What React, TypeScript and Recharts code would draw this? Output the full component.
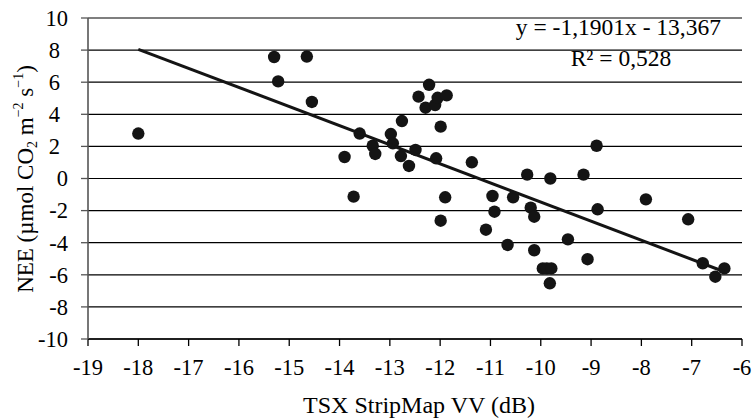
import React from "react";
import { ScatterChart, Scatter, XAxis, YAxis, CartesianGrid } from "recharts";

// TSX StripMap VV (dB) vs NEE
const vvDb = [
  -18.0, -15.3, -15.22, -14.65, -14.55, -13.9, -13.72, -13.6, -13.34, -13.29,
  -12.98, -12.94, -12.76, -12.78, -12.62, -12.49, -12.43, -12.22, -12.29, -12.1,
  -12.05, -11.87, -11.99, -12.08, -11.37, -11.9, -11.99, -11.09, -10.96, -10.92,
  -10.66, -10.55, -10.27, -10.2, -10.13, -10.13, -9.96, -9.88, -9.79, -9.82,
  -9.81, -9.46, -9.15, -9.07, -8.89, -8.87, -7.91, -7.07, -6.78, -6.53, -6.35,
];
const nee = [
  2.8, 7.57, 6.05, 7.6, 4.77, 1.34, -1.13, 2.8, 2.04, 1.53,
  2.77, 2.19, 3.58, 1.4, 0.78, 1.78, 5.1, 5.84, 4.41, 4.58,
  5.03, 5.18, 3.23, 1.26, 1.01, -1.17, -2.63, -3.19, -1.09, -2.07,
  -4.14, -1.17, 0.24, -1.82, -2.38, -4.47, -5.6, -5.6, -5.6, -6.53,
  0.0, -3.79, 0.24, -5.03, 2.04, -1.92, -1.3, -2.54, -5.28, -6.12, -5.6,
];

// linear trend end points (y = -1,1901x - 13,367)
const trendX = [-18, -6.35];
const trendY = [8.05, -5.81];

const xTicks = [-19, -18, -17, -16, -15, -14, -13, -12, -11, -10, -9, -8, -7, -6];
const yTicks = [-10, -8, -6, -4, -2, 0, 2, 4, 6, 8, 10];

const equation = "y = -1,1901x - 13,367";
const rSquared = "R² = 0,528";

const points = vvDb.map((x, i) => ({ x, y: nee[i] }));
const trend = trendX.map((x, i) => ({ x, y: trendY[i] }));

const FONT = "Liberation Serif";
const tickTxt = { fontFamily: FONT, fontSize: 22.5 };
const txt = { fontFamily: FONT, fontSize: 23 };
const small = { fontSize: 14 };

const YTick = (props: any) => {
  const v = props.payload.value as number;
  const right = v > 0 && v < 10 ? 60 : 68;
  return (
    <text x={right} y={props.y} dy="0.35em" textAnchor="end" fill="#000" style={tickTxt}>
      {v}
    </text>
  );
};

const XTick = (props: any) => (
  <text x={props.x} y={375} textAnchor="middle" fill="#000" style={tickTxt}>
    {props.payload.value}
  </text>
);

const YTitle = () => (
  <g>
    <text transform="translate(33,179) rotate(-90)" textAnchor="middle" fill="#000" style={txt}>
      NEE (µmol CO
      <tspan style={small} dy={4}>2</tspan>
      <tspan dy={-4}> m</tspan>
      <tspan style={small} dy={-10}>−2</tspan>
      <tspan dy={10}> s</tspan>
      <tspan style={small} dy={-10}>−1</tspan>
      <tspan dy={10}>)</tspan>
    </text>
    <text x={721} y={35} textAnchor="end" fill="#000" style={{ ...txt, fontSize: 23.5 }}>
      {equation}
    </text>
    <text x={621} y={66} textAnchor="middle" fill="#000" style={{ ...txt, fontSize: 23.5 }}>
      {rSquared}
    </text>
  </g>
);

const XTitle = () => (
  <text x={419} y={413} textAnchor="middle" fill="#000" style={{ ...txt, fontSize: 24 }}>
    TSX StripMap VV (dB)
  </text>
);

const Dot = (props: any) => <circle cx={props.cx} cy={props.cy} r={6.2} fill="#141414" />;

export default function App() {
  return (
    <div style={{ position: "absolute", left: 0, top: 0, background: "#fff", fontFamily: FONT }}>
      <ScatterChart width={754} height={420} margin={{ top: 18, right: 12, bottom: 0, left: 0 }}>
        <CartesianGrid horizontal vertical={false} stroke="#000" strokeWidth={1.2} />
        <XAxis
          type="number"
          dataKey="x"
          domain={[-19, -6]}
          ticks={xTicks}
          interval={0}
          height={81}
          tickSize={7}
          axisLine={{ stroke: "#000", strokeWidth: 1.3 }}
          tickLine={{ stroke: "#000", strokeWidth: 1.3 }}
          tick={XTick}
          label={XTitle}
        />
        <YAxis
          type="number"
          dataKey="y"
          domain={[-10, 10]}
          ticks={yTicks}
          interval={0}
          width={88}
          tickSize={7}
          axisLine={{ stroke: "#555", strokeWidth: 1.6 }}
          tickLine={{ stroke: "#555", strokeWidth: 1.3 }}
          tick={YTick}
          label={YTitle}
        />
        <Scatter data={points} shape={Dot} isAnimationActive={false} />
        <Scatter
          data={trend}
          line={{ stroke: "#141414", strokeWidth: 3 }}
          shape={() => <g />}
          isAnimationActive={false}
        />
      </ScatterChart>
    </div>
  );
}
